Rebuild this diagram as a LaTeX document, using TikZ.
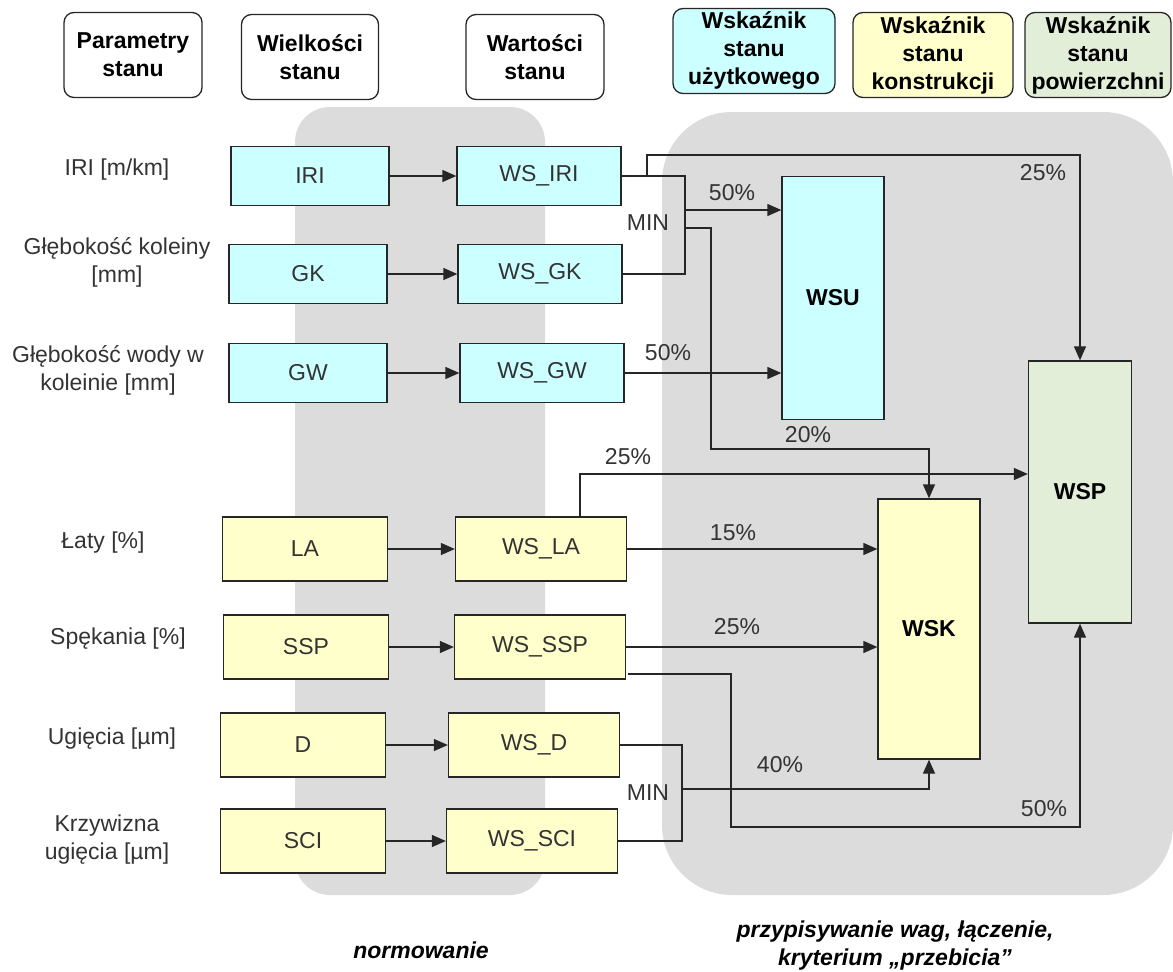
\documentclass[tikz,border=0pt]{standalone}
\usepackage{fontspec}
\setmainfont{Liberation Sans}
\usetikzlibrary{arrows.meta}
\definecolor{tlo}{HTML}{DCDCDC}
\definecolor{niebieski}{HTML}{CCFFFF}
\definecolor{zolty}{HTML}{FFFFCC}
\definecolor{zielony}{HTML}{E2EED8}
\definecolor{napis}{HTML}{333333}
\begin{document}
\begin{tikzpicture}[x=1pt,y=-1pt,>={Triangle[length=14pt,width=12pt]},
    every node/.style={font=\fontsize{23}{28}\selectfont,text=napis,inner sep=0pt,align=center},
    naglowek/.style={draw=black!85,line width=1.3pt,rounded corners=10pt,minimum width=138pt,minimum height=85pt,font=\fontsize{23}{28}\selectfont\bfseries,text=black},
    blok/.style={draw=black!85,line width=1.3pt},
    wskaznik/.style={draw=black!85,line width=1.3pt,minimum width=102pt,font=\fontsize{23}{28}\selectfont\bfseries,text=black},
    linia/.style={draw=black!85,line width=1.3pt}]
\useasboundingbox (0,0) rectangle (1173,972);
\fill[tlo,rounded corners=35pt] (295,107) rectangle (545,895);
\fill[tlo,rounded corners=70pt] (662,112) rectangle (1173,895);

\node[naglowek] (par) at (133,55) {Parametry\\stanu};
\node[naglowek,minimum width=137pt] (wie) at (310,57) {Wielkości\\stanu};
\node[naglowek] (war) at (535,57) {Wartości\\stanu};
\node[naglowek,fill=niebieski,minimum width=162pt] (nWSU) at (754,51) {Wskaźnik\\stanu\\użytkowego};
\node[naglowek,fill=zolty,minimum width=160pt] (nWSK) at (933,55) {Wskaźnik\\stanu\\konstrukcji};
\node[naglowek,fill=zielony,minimum width=146pt] (nWSP) at (1098,55) {Wskaźnik\\stanu\\powierzchni};

\node (pIRI) at (117,170) {IRI [m/km]};
\node (pGK) at (117,262) {Głębokość koleiny\\{}[mm]};
\node (pGW) at (108,370) {Głębokość wody w\\koleinie [mm]};
\node (pLA) at (103,543) {Łaty [\%]};
\node (pSSP) at (118,639) {Spękania [\%]};
\node (pD) at (112,739) {Ugięcia [µm]};
\node (pSCI) at (107,840) {Krzywizna\\ugięcia [µm]};

\foreach \nm/\xa/\xb/\y in {IRI/310/539/176,GK/308/540/274,GW/308/542/373}
{
    \node[blok,fill=niebieski,minimum width=158pt,minimum height=59pt] (\nm) at (\xa,\y) {\nm};
    \node[blok,fill=niebieski,minimum width=164pt,minimum height=59pt] (WS\nm) at (\xb,\y) {WS\_\nm};
    \draw[->,linia] (\nm) -- (WS\nm);
}
\foreach \nm/\xa/\xb/\y in {LA/305/541/549,SSP/306/540/647,D/303/534/745,SCI/303/532/841}
{
    \node[blok,fill=zolty,minimum width=165pt,minimum height=64pt] (\nm) at (\xa,\y) {\nm};
    \node[blok,fill=zolty,minimum width=171pt,minimum height=64pt] (WS\nm) at (\xb,\y) {WS\_\nm};
    \draw[->,linia] (\nm) -- (WS\nm);
}

\node[wskaznik,fill=niebieski,minimum height=243pt] (WSU) at (833,298) {WSU};
\node[wskaznik,fill=zolty,minimum height=260pt] (WSK) at (929,629) {WSK};
\node[wskaznik,fill=zielony,minimum height=262pt,minimum width=103pt] (WSP) at (1080,492) {WSP};

\coordinate (minU) at (685,210);
\coordinate (minU2) at (685,228);
\coordinate (zalU) at (711,449);
\coordinate (odIRI) at (647,176);
\coordinate (odLA) at (580,517);
\coordinate (odSSP) at (628,674);
\coordinate (zalSSP) at (731,827);
\coordinate (minK) at (682,789);

\draw[linia] (WSIRI.east) -| (minU) |- (WSGK.east);
\draw[->,linia] (minU) -- (minU -| WSU.west);
\draw[->,linia] (minU2) -| (zalU) -| (WSK.north);
\draw[->,linia] (odIRI) -- ++(0,-21) -| (WSP.north);
\draw[->,linia] (WSGW) -- (WSGW -| WSU.west);
\draw[->,linia] (odLA) |- (WSP.west |- 0,474);
\draw[->,linia] (WSLA) -- (WSLA -| WSK.west);
\draw[->,linia] (WSSSP) -- (WSSSP -| WSK.west);
\draw[->,linia] (odSSP) -| (zalSSP) -| (WSP.south);
\draw[linia] (WSD.east) -| (minK) |- (WSSCI.east);
\draw[->,linia] (minK) -| (WSK.south);

\node (wU1) at (732,193) {50\%};
\node (wU2) at (668,353) {50\%};
\node (wP1) at (1043,173) {25\%};
\node (wK1) at (808,435) {20\%};
\node (wP2) at (628,457) {25\%};
\node (wK2) at (733,533) {15\%};
\node (wK3) at (737,627) {25\%};
\node (wK4) at (780,765) {40\%};
\node (wP3) at (1044,809) {50\%};
\node (minA) at (648,223) {MIN};
\node (minB) at (648,793) {MIN};

\node[font=\fontsize{23}{28}\selectfont\bfseries\itshape,text=black] (norm) at (421,950) {normowanie};
\node[font=\fontsize{23}{28}\selectfont\bfseries\itshape,text=black] (wagi) at (895,946) {przypisywanie wag, łączenie,\\kryterium „przebicia”};
\end{tikzpicture}
\end{document}
